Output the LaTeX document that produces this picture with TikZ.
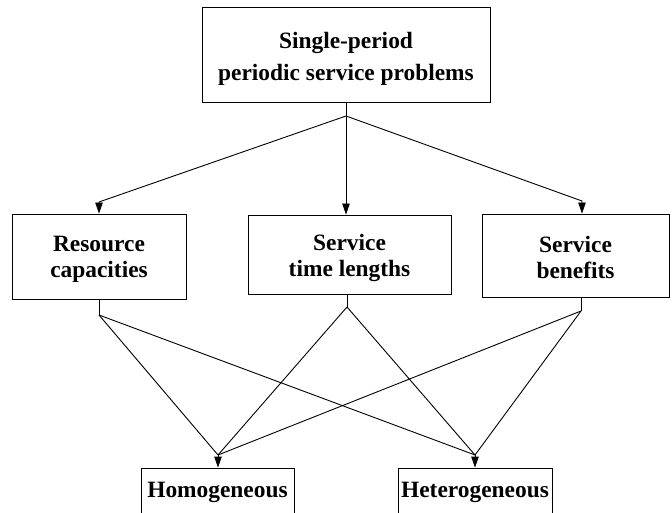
\documentclass[tikz,border=0pt]{standalone}
\usepackage{fontspec}
\setmainfont{Liberation Serif}
\usetikzlibrary{arrows.meta}
\begin{document}
\begin{tikzpicture}[x=1pt,y=-1pt,
  box/.style={draw=black,line width=0.9pt,inner sep=0pt},
  txt/.style={align=center,inner sep=0pt,
    font=\bfseries\fontsize{23.4}{26}\selectfont},
  link/.style={line width=0.9pt},
  arr/.style={line width=0.9pt,-{Triangle[length=11pt,width=7.5pt]}}]
\useasboundingbox (0,0) rectangle (672,513);
\clip (0,0) rectangle (672,513);

% root problem
\node[box,minimum width=288,minimum height=95] (root) at (346,54.5) {};
\node[txt,font=\bfseries\fontsize{23.4}{32}\selectfont,yshift=-4pt]
  (rootT) at (root.center) {Single-period\\periodic service problems};

% characteristics
\node[box,minimum width=174,minimum height=85] (res) at (99,256.5) {};
\node[txt,yshift=-3pt] (resT) at (res.center) {Resource\\capacities};
\node[box,minimum width=203,minimum height=79] (time) at (349.5,254.5) {};
\node[txt,yshift=-3pt] (timeT) at (time.center) {Service\\time lengths};
\node[box,minimum width=187,minimum height=83] (ben) at (575.5,255.5) {};
\node[txt,yshift=-2pt] (benT) at (ben.center) {Service\\benefits};

% cases
\node[box,minimum width=153,minimum height=48] (hom) at (217.5,492) {};
\node[txt] (homT) at (hom.center) {Homogeneous};
\node[box,minimum width=154,minimum height=48] (het) at (475,492) {};
\node[txt] (hetT) at (het.center) {Heterogeneous};

% branching points
\coordinate (s0) at (346,116);
\coordinate (k1) at (99,202);
\coordinate (k3) at (582,201);
\coordinate (r1) at (99,315);
\coordinate (r2) at (347,307);
\coordinate (r3) at (581,311);
\coordinate (h) at (218,455);
\coordinate (t) at (475,455);

% root to characteristics
\draw[link] (root.south -| s0) -- (s0);
\draw[arr] (s0) -- (k1) -- (res.north -| k1);
\draw[arr] (s0) -- (time.north -| s0);
\draw[arr] (s0) -- (k3) -- (ben.north -| k3);

% characteristics to cases
\draw[link] (res.south -| r1) -- (r1);
\draw[link] (time.south -| r2) -- (r2);
\draw[link] (ben.south -| r3) -- (r3);
\draw[link] (r1) -- (h);
\draw[link] (r2) -- (h);
\draw[link] (r3) -- (h);
\draw[link] (r1) -- (t);
\draw[link] (r2) -- (t);
\draw[link] (r3) -- (t);
\draw[arr] (h) -- (hom.north -| h);
\draw[arr] (t) -- (het.north -| t);
\end{tikzpicture}
\end{document}
